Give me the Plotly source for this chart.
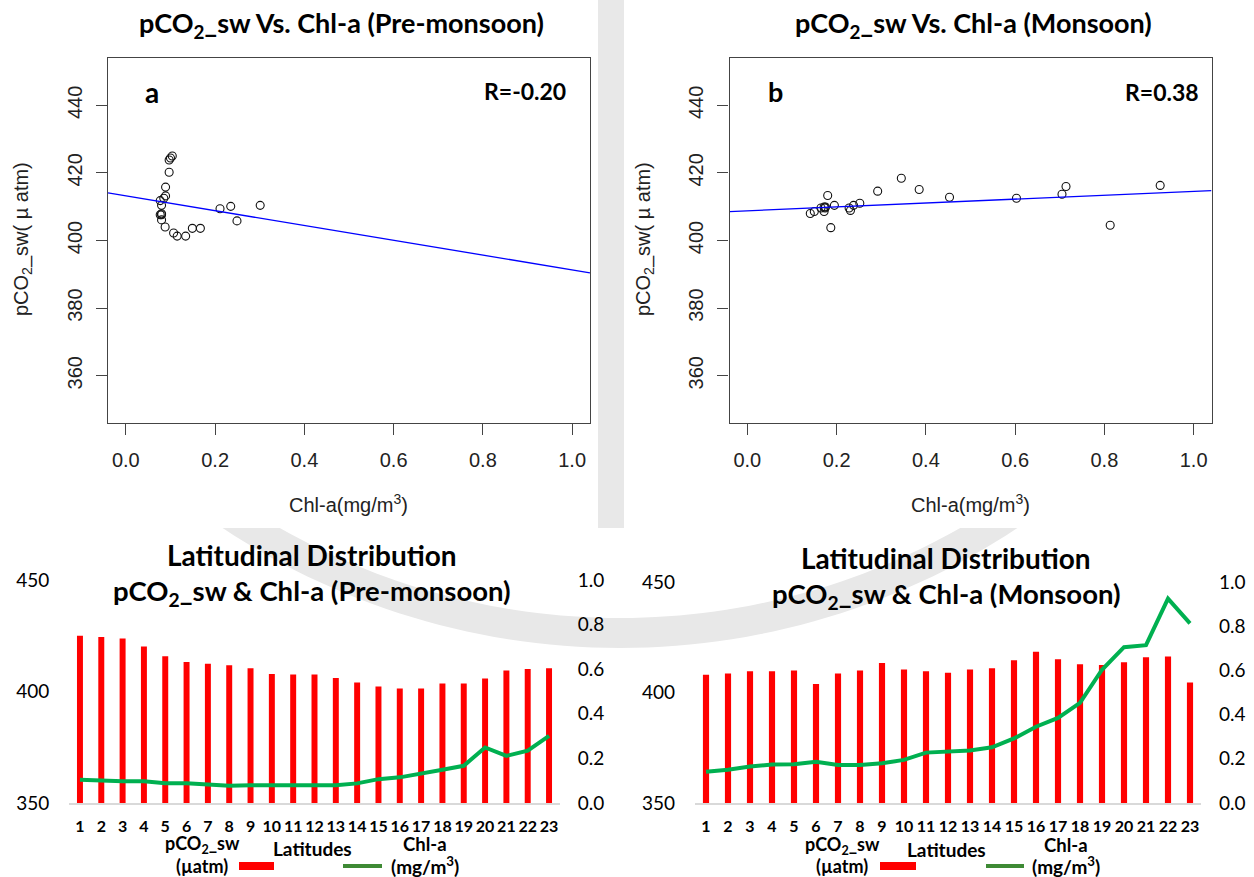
import math
import plotly.graph_objects as go

# ---------------- data ----------------
latitudes = list(range(1, 24))

pco2_pre = [425.0, 424.4, 423.8, 420.2, 415.8, 413.2, 412.5, 411.8, 410.4, 407.9, 407.6, 407.6,
            406.1, 404.0, 402.2, 401.3, 401.3, 403.6, 403.6, 405.8, 409.4, 410.1, 410.4]
chl_pre = [0.104, 0.100, 0.097, 0.097, 0.089, 0.089, 0.085, 0.077, 0.080, 0.080, 0.080, 0.077,
           0.080, 0.088, 0.107, 0.115, 0.134, 0.149, 0.167, 0.249, 0.211, 0.235, 0.301]

pco2_mon = [408.0, 408.6, 409.6, 409.6, 409.9, 403.8, 408.6, 409.9, 413.3, 410.4, 409.6, 408.9,
            410.4, 411.0, 414.6, 418.4, 415.1, 412.8, 412.5, 413.7, 416.0, 416.3, 404.5]
chl_mon = [0.141, 0.150, 0.165, 0.174, 0.175, 0.187, 0.172, 0.172, 0.180, 0.195, 0.228, 0.231,
           0.238, 0.252, 0.292, 0.345, 0.385, 0.453, 0.603, 0.705, 0.714, 0.925, 0.813]

# fitted regression lines (intercept, slope) as drawn in the panels
fit_pre = (413.2, -21.9)
fit_mon = (408.8, 5.74)

scatter_xticks = [0.0, 0.2, 0.4, 0.6, 0.8, 1.0]
scatter_yticks = [360, 380, 400, 420, 440]
bar_left_ticks = [350, 400, 450]
bar_right_ticks = [0.0, 0.2, 0.4, 0.6, 0.8, 1.0]

W, H = 1254, 877
SX_RANGE = [-0.04, 1.04]
SY_RANGE = [346, 454]


def px(x):
    return x / W


def py(y):
    return 1 - y / H


fig = go.Figure()

# ---------------- scatter panels ----------------
for i, (chl, pco2, fit) in enumerate([(chl_pre, pco2_pre, fit_pre), (chl_mon, pco2_mon, fit_mon)]):
    xa = "x" if i == 0 else "x2"
    ya = "y" if i == 0 else "y2"
    fig.add_trace(go.Scatter(x=chl, y=pco2, mode="markers", xaxis=xa, yaxis=ya,
                             marker=dict(symbol="circle-open", size=8, color="#111",
                                         line=dict(width=1.1, color="#111")),
                             showlegend=False, hoverinfo="x+y"))
    lx = SX_RANGE
    ly = [fit[0] + fit[1] * v for v in lx]
    fig.add_trace(go.Scatter(x=lx, y=ly, mode="lines", xaxis=xa, yaxis=ya,
                             line=dict(color="#0000ff", width=1.3),
                             showlegend=False, hoverinfo="skip"))

# ---------------- bar/line panels ----------------
for i, (pco2, chl) in enumerate([(pco2_pre, chl_pre), (pco2_mon, chl_mon)]):
    xa = "x3" if i == 0 else "x4"
    yl = "y3" if i == 0 else "y5"
    yr = "y4" if i == 0 else "y6"
    fig.add_trace(go.Bar(x=latitudes, y=pco2, xaxis=xa, yaxis=yl,
                         marker=dict(color="#ff0000", line=dict(width=0)),
                         showlegend=False))
    fig.add_trace(go.Scatter(x=latitudes, y=chl, mode="lines", xaxis=xa, yaxis=yr,
                             line=dict(color="#00b050", width=4),
                             showlegend=False))

sc_tickfont = dict(family="Liberation Sans, Arial", size=20, color="#222")
box = dict(showline=True, mirror=True, linecolor="#444", linewidth=1.4,
           showgrid=False, zeroline=False, ticks="outside", ticklen=11,
           tickwidth=1.2, tickcolor="#444", automargin=False)

fig.update_layout(
    xaxis=dict(domain=[px(108), px(590)], range=SX_RANGE, anchor="y",
               tickvals=scatter_xticks, ticktext=[f"{v:.1f}" for v in scatter_xticks],
               tickfont=sc_tickfont, ticklabelstandoff=8, **box),
    yaxis=dict(domain=[py(423), py(58)], range=SY_RANGE, anchor="x",
               tickvals=scatter_yticks, tickangle=-90,
               tickfont=sc_tickfont, ticklabelstandoff=6, **box),
    xaxis2=dict(domain=[px(729.5), px(1211.5)], range=SX_RANGE, anchor="y2",
                tickvals=scatter_xticks, ticktext=[f"{v:.1f}" for v in scatter_xticks],
                tickfont=sc_tickfont, ticklabelstandoff=8, **box),
    yaxis2=dict(domain=[py(423), py(58)], range=SY_RANGE, anchor="x2",
                tickvals=scatter_yticks, tickangle=-90,
                tickfont=sc_tickfont, ticklabelstandoff=6, **box),
)

bar_xfont = dict(family="Lato", size=16, color="#000", weight="bold")
bar_yfont = dict(family="Lato", size=19, color="#000")
for (xa, yl, yr, x0, x1, ytop) in [("xaxis3", "yaxis3", "yaxis4", 69.3, 559.7, 580),
                                    ("xaxis4", "yaxis5", "yaxis6", 695, 1201, 582)]:
    yl_id = "y" + yl[5:]
    x_id = "x" + xa[5:]
    fig.layout[xa] = dict(domain=[px(x0), px(x1)], range=[0.5, 23.5], anchor=yl_id,
                          tickvals=latitudes, ticks="", showgrid=False, zeroline=False,
                          showline=True, linecolor="#d9d9d9", linewidth=1.5,
                          tickangle=0, automargin=False,
                          tickfont=bar_xfont, ticklabelstandoff=8)
    fig.layout[yl] = dict(domain=[py(803), py(ytop)], range=[350, 450], anchor=x_id,
                          tickvals=bar_left_ticks, showgrid=False, zeroline=False,
                          showline=False, ticks="", tickfont=bar_yfont, ticklabelstandoff=19,
                          automargin=False)
    fig.layout[yr] = dict(domain=[py(803), py(ytop)], range=[0, 1], anchor=x_id,
                          overlaying=yl_id, side="right",
                          tickvals=bar_right_ticks, ticktext=[f"{v:.1f}" for v in bar_right_ticks],
                          showgrid=False, zeroline=False, showline=False, ticks="",
                          tickfont=bar_yfont, ticklabelstandoff=17, automargin=False)

fig.update_layout(bargap=0.72)

# ---------------- text ----------------
ann = []


def add_text(x, y, text, size, family="Lato", bold=False, color="#000", angle=0):
    ann.append(dict(x=px(x), y=py(y), xref="paper", yref="paper", text=(f"<b>{text}</b>" if bold else text),
                    showarrow=False, xanchor="center", yanchor="middle", textangle=angle,
                    font=dict(family=family, size=size, color=color)))


# scatter titles
add_text(341, 25, "pCO<sub>2</sub>_sw Vs. Chl-a (Pre-monsoon)", 27, bold=True)
add_text(973, 25, "pCO<sub>2</sub>_sw Vs. Chl-a (Monsoon)", 27, bold=True)
# scatter axis titles
for xc, yc in [(348, 503), (970, 503)]:
    add_text(xc, yc, "Chl-a(mg/m<sup>3</sup>)", 20, family="Liberation Sans, Arial", color="#222")
for xc in [22, 644]:
    add_text(xc, 239, "pCO<sub>2</sub>_sw( µ atm)", 20, family="Liberation Sans, Arial",
             color="#222", angle=-90)
# panel labels
add_text(152, 92, "a", 28, bold=True)
add_text(525, 91, "R=-0.20", 23, bold=True)
add_text(775, 92, "b", 27, bold=True)
add_text(1162, 92, "R=0.38", 23, bold=True)

# bar chart titles
add_text(312, 555, "Latitudinal Distribution", 28, bold=True)
add_text(312, 592, "pCO<sub>2</sub>_sw &amp; Chl-a (Pre-monsoon)", 27.5, bold=True)
add_text(946, 558, "Latitudinal Distribution", 28, bold=True)
add_text(946, 595, "pCO<sub>2</sub>_sw &amp; Chl-a (Monsoon)", 27.5, bold=True)

# ---------------- background watermark (faint grey arc + strip) ----------------
shapes = []
cx, cy, r_out, r_in, y_cut = 620, -70, 718, 688, 528


def arc_pts(r):
    half = math.sqrt(max(r * r - (y_cut - cy) ** 2, 0))
    a0 = math.atan2(y_cut - cy, -half)
    a1 = math.atan2(y_cut - cy, half)
    n = 60
    return [(cx + r * math.cos(a0 + (a1 - a0) * k / n), cy + r * math.sin(a0 + (a1 - a0) * k / n))
            for k in range(n + 1)]


outer = arc_pts(r_out)
inner = arc_pts(r_in)[::-1]
pts = outer + inner
path = "M " + " L ".join(f"{px(x):.5f},{py(y):.5f}" for x, y in pts) + " Z"
shapes.append(dict(type="path", xref="paper", yref="paper", path=path, layer="below",
                   fillcolor="#e8e8e8", line=dict(width=0)))
shapes.append(dict(type="rect", xref="paper", yref="paper", x0=px(598), x1=px(624),
                   y0=py(528), y1=py(0), layer="below", fillcolor="#e8e8e8", line=dict(width=0)))

# bar chart legends
for (pc, lat, chlc, red0, red1, g0, g1, ytop) in [
        (202, 312, 425, 239, 274, 343, 382, 844),
        (842, 946, 1066, 880, 916, 986, 1024, 845)]:
    add_text(pc, ytop, "pCO<sub>2</sub>_sw", 18, bold=True)
    add_text(pc, 866, "(µatm)", 18, bold=True)
    add_text(lat, ytop + 4, "Latitudes", 19, bold=True)
    add_text(chlc, ytop, "Chl-a", 18.5, bold=True)
    add_text(chlc, 865, "(mg/m<sup>3</sup>)", 19, bold=True)
    shapes.append(dict(type="rect", xref="paper", yref="paper", x0=px(red0), x1=px(red1),
                       y0=py(870), y1=py(862), fillcolor="#ff0000", line=dict(width=0)))
    shapes.append(dict(type="line", xref="paper", yref="paper", x0=px(g0), x1=px(g1),
                       y0=py(866), y1=py(866), line=dict(color="#3e8a35", width=4)))

fig.update_layout(
    width=W, height=H, margin=dict(l=0, r=0, t=0, b=0, autoexpand=False),
    paper_bgcolor="white", plot_bgcolor="rgba(0,0,0,0)",
    annotations=ann, shapes=shapes, showlegend=False,
)

fig.write_html("out.html", config={"displayModeBar": False},
               post_script="document.body.style.margin='0';document.body.style.overflow='hidden';")
